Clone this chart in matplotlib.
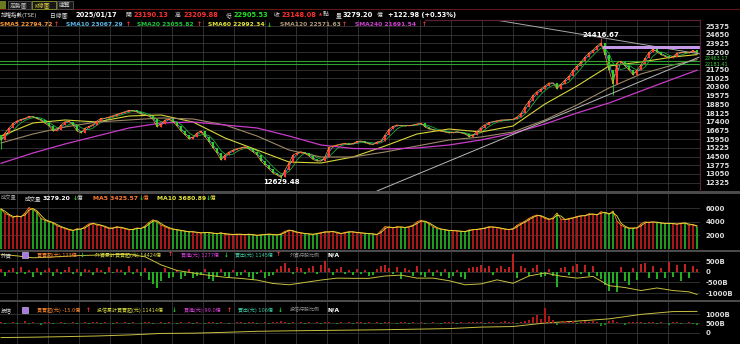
import numpy as np
import pandas as pd
import matplotlib.pyplot as plt
from matplotlib.patches import Rectangle

plt.rcParams['font.family'] = ['DejaVu Sans', 'Noto Sans CJK TC']

# 加權指數 K棒收盤 (2021/04 ~ 2025/01/17)
close = [
    15880, 16470, 16880, 17260, 17470, 17590, 17690, 17840, 17800, 17670,
    17510, 17270, 17050, 16630, 16720, 17130, 17410, 17420, 17130, 16630,
    16470, 16860, 17010, 17170, 17470, 17690, 17690, 17800, 17910, 18020,
    18130, 18240, 18360, 18340, 18210, 18030, 17960, 17860, 17590, 16990,
    17220, 17550, 17610, 17420, 17050, 16630, 16300, 15970, 16130, 16470,
    16630, 16160, 15720, 15220, 14800, 14220, 14630, 14880, 15050, 15160,
    15240, 15320, 15110, 14880, 14630, 14130, 13800, 13470, 13130, 12970,
    12760, 13380, 13970, 14630, 14800, 14910, 14770, 14550, 14260, 14130,
    14130, 14490, 15260, 15380, 15470, 15550, 15590, 15510, 15590, 15760,
    15800, 15670, 15550, 15510, 15720, 15800, 16300, 16760, 17010, 17130,
    17090, 17050, 17090, 17130, 17220, 17260, 16970, 16800, 16720, 16670,
    16610, 16550, 16470, 16510, 16570, 16480, 16380, 16170, 16300, 16590,
    16920, 17170, 17340, 17410, 17490, 17550, 17550, 17570, 17610, 17800,
    18090, 18660, 19110, 19590, 19920, 20130, 20380, 20630, 20630, 20170,
    20550, 20880, 21210, 21710, 22050, 22380, 22800, 23130, 23380, 23710,
    23960, 22960, 21710, 20550, 22300, 22450, 22050, 21710, 21300, 21710,
    22130, 22690, 23170, 23460, 23210, 23000, 22840, 22710, 22820, 23130,
    23170, 23130, 23170, 23340, 23148.08,
]
open0 = 16300
extra_high = {150: 24416.67}
extra_low = {0: 15150, 70: 12629.48, 153: 19662.0}

# 長天期均線 (每8根取一點)
ma_idx = list(range(0, 169, 8)) + [174]
sma60 = [16215, 17298, 17548, 17381, 17881, 17964, 17381, 16049, 15049, 14049, 13966, 14466,
         15382, 16382, 16798, 16548, 17048, 18881, 20380, 22046, 22379, 22796, 22992.34]
sma120 = [15632, 16382, 16965, 17381, 17548, 17715, 17631, 17131, 16215, 15049, 14466, 14466,
          14882, 15382, 15882, 16132, 16548, 17548, 18797, 20214, 21380, 22129, 22571.63]
sma240 = [13941, 14799, 15549, 16215, 16882, 17298, 17381, 17131, 16882, 16215, 15465, 15174,
          15132, 15216, 15465, 15882, 16440, 17215, 18131, 18964, 19964, 20963, 21691.54]

# 成交量(億)
volume = [
    5900, 5200, 5000, 4600, 4900, 4700, 5300, 6100, 5800, 5400,
    4500, 4200, 4000, 3800, 3400, 3200, 3000, 2800, 2700, 3000,
    2900, 3300, 3700, 3800, 3500, 3500, 3200, 3000, 3100, 3300,
    3100, 3000, 2800, 2900, 3100, 3000, 3400, 3900, 4300, 4000,
    3500, 3300, 3000, 2900, 2800, 2700, 2600, 2500, 2550, 2400,
    2350, 2450, 2400, 2300, 2250, 2400, 2150, 2200, 2100, 2200,
    2150, 2100, 2200, 2050, 2000, 2100, 2150, 2200, 2100, 2050,
    2250, 2600, 2800, 2600, 2400, 2350, 2250, 2200, 2150, 2300,
    2400, 2550, 2500, 2600, 2350, 2250, 2450, 2550, 2500, 2400,
    2350, 2300, 2250, 2200, 2100, 2700, 3300, 3200, 3100, 3300,
    3200, 3150, 3300, 3500, 4000, 4200, 4000, 3700, 3300, 3000,
    2900, 2800, 2700, 2700, 2650, 2600, 2550, 2800, 2850, 2900,
    3000, 3100, 3300, 3200, 3150, 3000, 2900, 2850, 3000, 3500,
    3800, 4100, 4500, 4800, 5000, 4800, 4500, 4300, 4600, 5300,
    4400, 4300, 4500, 4600, 4800, 4900, 4900, 5200, 5100, 5000,
    5500, 5300, 5100, 5600, 4100, 3500, 3200, 3000, 3100, 3100,
    3700, 4000, 3900, 4000, 3900, 3800, 3750, 3800, 3700, 3650,
    3800, 3850, 3500, 3600, 3279.20,
]

# 外資買賣超(億)
foreign_net = [
    120, -180, 90, 160, -120, 210, -90, 60, -240, 150,
    -160, 80, 190, -210, 110, -130, 70, 230, -90, 140,
    -200, 120, 60, -150, 180, 90, -110, 200, -80, 130,
    70, -140, 250, -90, 110, -220, 160, -380, -560, -760,
    -420, 180, -300, -250, 90, -350, -180, 120, -280, -200,
    -150, 110, -320, -450, -260, 140, -190, -310, 100, -220,
    -160, 80, -240, -380, -120, 90, -280, -200, -150, 110,
    260, 430, 180, -120, 220, 150, -90, 190, 280, -110,
    300, 500, 160, -140, 120, 210, -100, 90, -160, 140,
    -120, 80, -180, -150, 110, 260, 300, 180, -90, 210,
    -320, 150, 90, -200, 280, -150, -260, 120, -180, 90,
    -220, 140, -300, -180, 100, -250, -330, 160, 240, 200,
    320, 180, 260, -140, 150, 280, 130, 220, 810, -300,
    250, 180, -200, 150, 300, -260, -180, 120, -220, -700,
    160, 220, -150, 280, 360, -120, 310, -200, 250, -180,
    -350, -620, -880, -540, -950, 210, -420, -600, 180, -380,
    350, 420, -300, 260, -350, 180, -280, 460, -240, 300,
    -420, 380, -310, 250, 123,
]
# 外資累計 (每4根取一點)
foreign_idx = list(range(0, 173, 4)) + [174]
foreign_cum = [810, 740, 650, 680, 720, 760, 775, 800, 810, 700,
               320, 60, -60, -170, -260, -315, -390, -550, -610, -500,
               -390, -300, -310, -310, -200, -160, -300, -300, -420, -610,
               -570, -380, -540, -200, -60, -210, -300, -220, -650, -740,
               -880, -760, -880, -940, -1060]

# 投信買賣超(億)
trust_net = [
    12, -6, 8, 15, -10, 5, 20, -8, 10, 6,
    -12, 9, 14, -5, 7, 18, -9, 6, 11, -4,
    8, 13, -7, 10, 16, -6, 9, 5, -11, 12,
    7, 15, -8, 10, 6, -5, 13, 9, -10, 8,
    14, -6, 11, 7, -9, 10, 5, 16, -7, 9,
    6, -8, 12, 10, -5, 15, 8, -11, 7, 13,
    9, -6, 11, 14, -8, 6, 10, -7, 12, 18,
    20, 15, -9, 11, 8, 13, -6, 10, 7, 12,
    -10, 9, 14, 6, -7, 11, 8, 15, -5, 10,
    12, -8, 9, 7, 13, -6, 16, 10, 8, -9,
    11, 14, -7, 9, 6, 12, -10, 8, 15, 7,
    -6, 10, 13, 9, -8, 11, 6, 14, 18, 12,
    9, -7, 15, 10, 8, 13, 20, 16, 11, -9,
    14, 22, 35, 60, 80, 45, 150, 70, 30, -12,
    18, 25, 14, 20, -10, 16, 22, 12, 19, 15,
    -25, -18, 24, 30, 12, 8, -14, 16, 10, 13,
    9, -11, 12, 15, -8, 10, 7, -12, 9, 11,
    -6, 8, 10, -9, -15.0,
]
# 投信累計 (每8根取一點)
trust_cum = [-260, -240, -210, -175, -120, -40, -25, 20, 75, 100, 120, 140,
             160, 190, 220, 300, 330, 520, 620, 740, 980, 1130, 1140]

# 畫線工具: 切線, 壓力區, 水平線
trend_up = [(94.0, 11634), (174.5, 22780)]
trend_dn = [(123.75, 25870), (174.75, 23046)]
zone = (150.5, 23470, 23700)
hlines = [22463.17, 22181.41]

price_ticks = list(range(12325, 25376, 725))

W, H = 740, 344
UP, DN = '#ff3838', '#2ed02e'
GRID = '#363636'
TXT = '#dadada'

fig = plt.figure(figsize=(W / 100, H / 100), dpi=100, facecolor='black')


def fx(x):
    return x / W


def fy(y):
    return 1 - y / H


def put(x, y, s, c=TXT, size=4.6, bold=False):
    fig.text(fx(x), fy(y), s, color=c, fontsize=size,
             fontweight='bold' if bold else 'normal', ha='left', va='center')


def panel(top, bottom):
    a = fig.add_axes([0, fy(bottom), 700 / W, (bottom - top) / H], facecolor='black')
    for s in a.spines.values():
        s.set_visible(False)
    a.set_xlim(-0.25, 174.75)
    a.set_xticks([(17 + 31 * k) / 4 - 0.25 for k in range(22)])
    a.yaxis.tick_right()
    a.tick_params(axis='x', length=0, labelbottom=False)
    a.tick_params(axis='y', length=0, pad=4, labelsize=5, labelcolor=TXT)
    a.grid(color=GRID, lw=0.6)
    a.set_axisbelow(True)
    return a


n = len(close)
idx = np.arange(n)
c = np.array(close, dtype=float)
o = np.r_[open0, c[:-1]]
hi = np.maximum(o, c)
lo = np.minimum(o, c)
for k, v in extra_high.items():
    hi[k] = v
for k, v in extra_low.items():
    lo[k] = v
up = c >= o
col = np.where(up, UP, DN)

# ---- 主圖 ----
ax = panel(20, 191)
ax.set_ylim(11634, 25875)
ax.set_yticks(price_ticks)
# 22475 的位置讓給水平線的數值
ax.set_yticklabels(['' if p == 22475 else str(p) for p in price_ticks], fontweight='bold')

s = pd.Series(c)
ax.plot(idx, s.rolling(4, min_periods=1).mean(), color='#1fae3a', lw=0.6, zorder=2)
ax.plot(idx, s.rolling(2, min_periods=1).mean(), color='#5ab8ea', lw=0.5, zorder=2)
ax.plot(ma_idx, sma60, color='#d6d63a', lw=0.8, zorder=2)
ax.plot(ma_idx, sma120, color='#9e8866', lw=0.8, zorder=2)
ax.plot(ma_idx, sma240, color='#c93cc9', lw=0.9, zorder=2)

ax.vlines(idx, lo, hi, colors=col, lw=0.6, zorder=3)
ax.bar(idx, np.maximum(np.abs(c - o), 20), bottom=np.minimum(o, c), width=0.6,
       color=col, lw=0, zorder=3)
ax.plot(idx, s, color='#ff9a30', lw=0.5, zorder=3.5)

for v in hlines:
    ax.axhline(v, color='#2fa02f', lw=0.8, zorder=3)
ax.text(1.006, hlines[0], f'{hlines[0]:.2f}', transform=ax.get_yaxis_transform(),
        color='#3fd03f', fontsize=3.6, va='bottom', clip_on=False)
ax.text(1.006, hlines[1], f'{hlines[1]:.2f}', transform=ax.get_yaxis_transform(),
        color='#3fd03f', fontsize=3.6, va='center', clip_on=False)
ax.add_patch(Rectangle((zone[0], zone[1]), 174.75 - zone[0], zone[2] - zone[1],
                       color='#c49ae8', lw=0, zorder=4))
ax.plot(*zip(*trend_up), color='#b8b8b8', lw=0.7, zorder=3)
ax.plot(*zip(*trend_dn), color='#a8a8a8', lw=0.7, zorder=3)

ax.text(150, extra_high[150], '24416.67', color='white', fontsize=5, fontweight='bold',
        ha='center', va='bottom', zorder=5)
ax.text(70, extra_low[70], '12629.48', color='white', fontsize=5, fontweight='bold',
        ha='center', va='top', zorder=5)

# ---- 成交量 ----
axv = panel(193, 250)
axv.set_ylim(-147, 8235)
axv.set_yticks([2000, 4000, 6000])
axv.set_yticklabels(['2000', '4000', '6000'], fontweight='bold')
vcol = np.where(up, '#a81818', '#1f9a1f')
axv.bar(idx, volume, width=0.6, color=vcol, lw=0)
vs = pd.Series(volume, dtype=float)
axv.plot(idx, vs, color='#ff8a20', lw=0.6)
axv.plot(idx, vs.rolling(2, min_periods=1).mean(), color='#e6e63a', lw=0.6)

# ---- 外資 ----
axf = panel(252, 300)
axf.set_ylim(-1322, 921)
axf.set_yticks([500, 0, -500, -1000])
axf.set_yticklabels(['500B', '0', '-500B', '-1000B'], fontweight='bold')
fn = np.array(foreign_net, dtype=float)
axf.bar(idx, fn, width=0.5, color=np.where(fn >= 0, '#c02020', '#22b022'), lw=0)
axf.plot(foreign_idx, foreign_cum, color='#c8c040', lw=0.7)

# ---- 投信 ----
axt = panel(302, 344)
axt.set_ylim(-604, 1642)
axt.set_yticks([0, 500, 1000])
axt.set_yticklabels(['0', '500B', '1000B'], fontweight='bold')
axt.plot(ma_idx, trust_cum, color='#c8c040', lw=0.7, zorder=3)
# 每日買賣超用自己的刻度, 疊在同一區
axt2 = fig.add_axes(axt.get_position(), facecolor='none')
axt2.set_xlim(-0.25, 174.75)
axt2.set_ylim(-207, 213)
axt2.axis('off')
tn = np.array(trust_net, dtype=float)
axt2.bar(idx, tn, width=0.6, color=np.where(tn >= 0, '#b01818', '#208020'), lw=0)

# ---- 分隔線與外框 ----
for y0, y1 in [(191, 193.5), (250, 252), (300, 302)]:
    fig.add_artist(Rectangle((0, fy(y1)), 1, (y1 - y0) / H, transform=fig.transFigure,
                             color='#4a4a4a', lw=0))
fig.add_artist(Rectangle((0, fy(10)), 1, 1.2 / H, transform=fig.transFigure,
                         color='#6a1414', lw=0))
fig.add_artist(plt.Line2D([fx(425), fx(700)], [fy(20), fy(20)], color='#5a2038', lw=0.9))
fig.add_artist(plt.Line2D([fx(700), fx(700)], [fy(20), fy(191)], color='#5a2038', lw=0.9))

# 頁籤列
fig.add_artist(Rectangle((0, fy(9)), fx(6), 8 / H, transform=fig.transFigure,
                         color='#6a7a20', lw=0))
for x0, w, label, tc, ec in [(8, 23, '走勢圖', '#c0c0c0', '#555555'),
                             (32, 24, 'K線圖', '#e0d040', '#8a9a30'),
                             (57, 16, '速覽', '#c0c0c0', '#555555')]:
    fig.add_artist(Rectangle((fx(x0), fy(9)), w / W, 8 / H, transform=fig.transFigure,
                             facecolor='#161616', edgecolor=ec, lw=0.6))
    put(x0 + 2, 5, label, tc, 4.2)

# 報價列
put(0.5, 15, '加權指數(TSE)', TXT, 4.0)
put(50, 15, '日線圖', TXT, 4.2)
put(75, 15, '2025/01/17', 'white', 4.8, True)
for x, lab in [(126, '開'), (175, '高'), (226, '低'), (274, '收'), (336, '量')]:
    put(x, 15, lab, TXT, 4.2)
put(133, 15, '23190.13', '#ff2e2e', 4.8, True)
put(183, 15, '23209.88', '#ff2e2e', 4.8, True)
put(233, 15, '22905.53', '#22e022', 4.8, True)
put(282, 15, '23148.08', '#ff2e2e', 4.8, True)
put(318.5, 15, '▲', '#ff2e2e', 2.8)
put(323, 15, '點', TXT, 4.2)
put(343, 15, '3279.20', 'white', 4.8, True)
put(377, 15, '億', TXT, 4.2)
put(388, 15, '+122.98 (+0.53%)', 'white', 4.8, True)

# 均線說明
for x, lab, cc, ax_x, ac in [(0.5, 'SMA5 22794.72', '#ff9a30', 54, UP),
                             (66, 'SMA10 23067.29', '#5ab8ea', 126, UP),
                             (137, 'SMA20 23055.82', '#1fc83a', 197, UP),
                             (208, 'SMA60 22992.34', '#e6e63a', 267, DN),
                             (280, 'SMA120 22571.63', '#b09878', 342, UP),
                             (355, 'SMA240 21691.54', '#d040d0', 422, UP)]:
    put(x, 25, lab, cc, 4.3, True)
    put(ax_x, 25, '↑' if ac == UP else '↓', ac, 4.3, True)

# 成交量說明
put(0.5, 198, '成交量', '#a0a0a0', 3.8)
put(25, 198, '成交量', TXT, 4.0)
put(43, 198, '3279.20', 'white', 4.4, True)
put(73, 198, '↓', DN, 4.4, True)
put(77, 198, '億', TXT, 4.0)
put(93, 198, 'MA5 3425.57', '#ff7a30', 4.4, True)
put(139, 198, '↓', DN, 4.4, True)
put(143, 198, '億', '#ff7a30', 4.0)
put(157, 198, 'MA10 3680.89', '#e6e63a', 4.4, True)
put(206, 198, '↓', DN, 4.4, True)
put(210, 198, '億', '#e6e63a', 4.0)

# 法人說明
for y, who, items, tail in [
    (255, '外資', [(37, '買賣超(元) 123億', '#ff8a30', 80, DN),
                   (95, '外資累計買賣超(元) 14424億', '#d8d840', 168, UP),
                   (181, '買進(元) 1277億', '#d040d0', 224, DN),
                   (235, '賣出(元) 1145億', '#40c8a0', 276, UP)], '外資持股比例'),
    (310, '投信', [(37, '買賣超(元) -15.0億', '#ff8a30', 86, UP),
                   (97, '投信累計買賣超(元) 11414億', '#d8d840', 172, DN),
                   (184, '買進(元) 99.0億', '#d040d0', 227, UP),
                   (238, '賣出(元) 106億', '#40c8a0', 278, DN)], '投信持股比例')]:
    put(0.5, y, who, TXT, 4.0)
    fig.add_artist(Rectangle((fx(22), fy(y + 3)), 6 / W, 6 / H, transform=fig.transFigure,
                             facecolor='#a878e0', edgecolor='#e0d0ff', lw=0.4))
    for x, lab, cc, arx, ac in items:
        put(x, y, lab, cc, 3.6)
        put(arx, y, '↑' if ac == UP else '↓', ac, 4.2, True)
    put(290, y, tail, '#909090', 3.6)
    put(327, y, 'N/A', 'white', 4.4, True)

plt.savefig('out.png', dpi=100, facecolor='black')
